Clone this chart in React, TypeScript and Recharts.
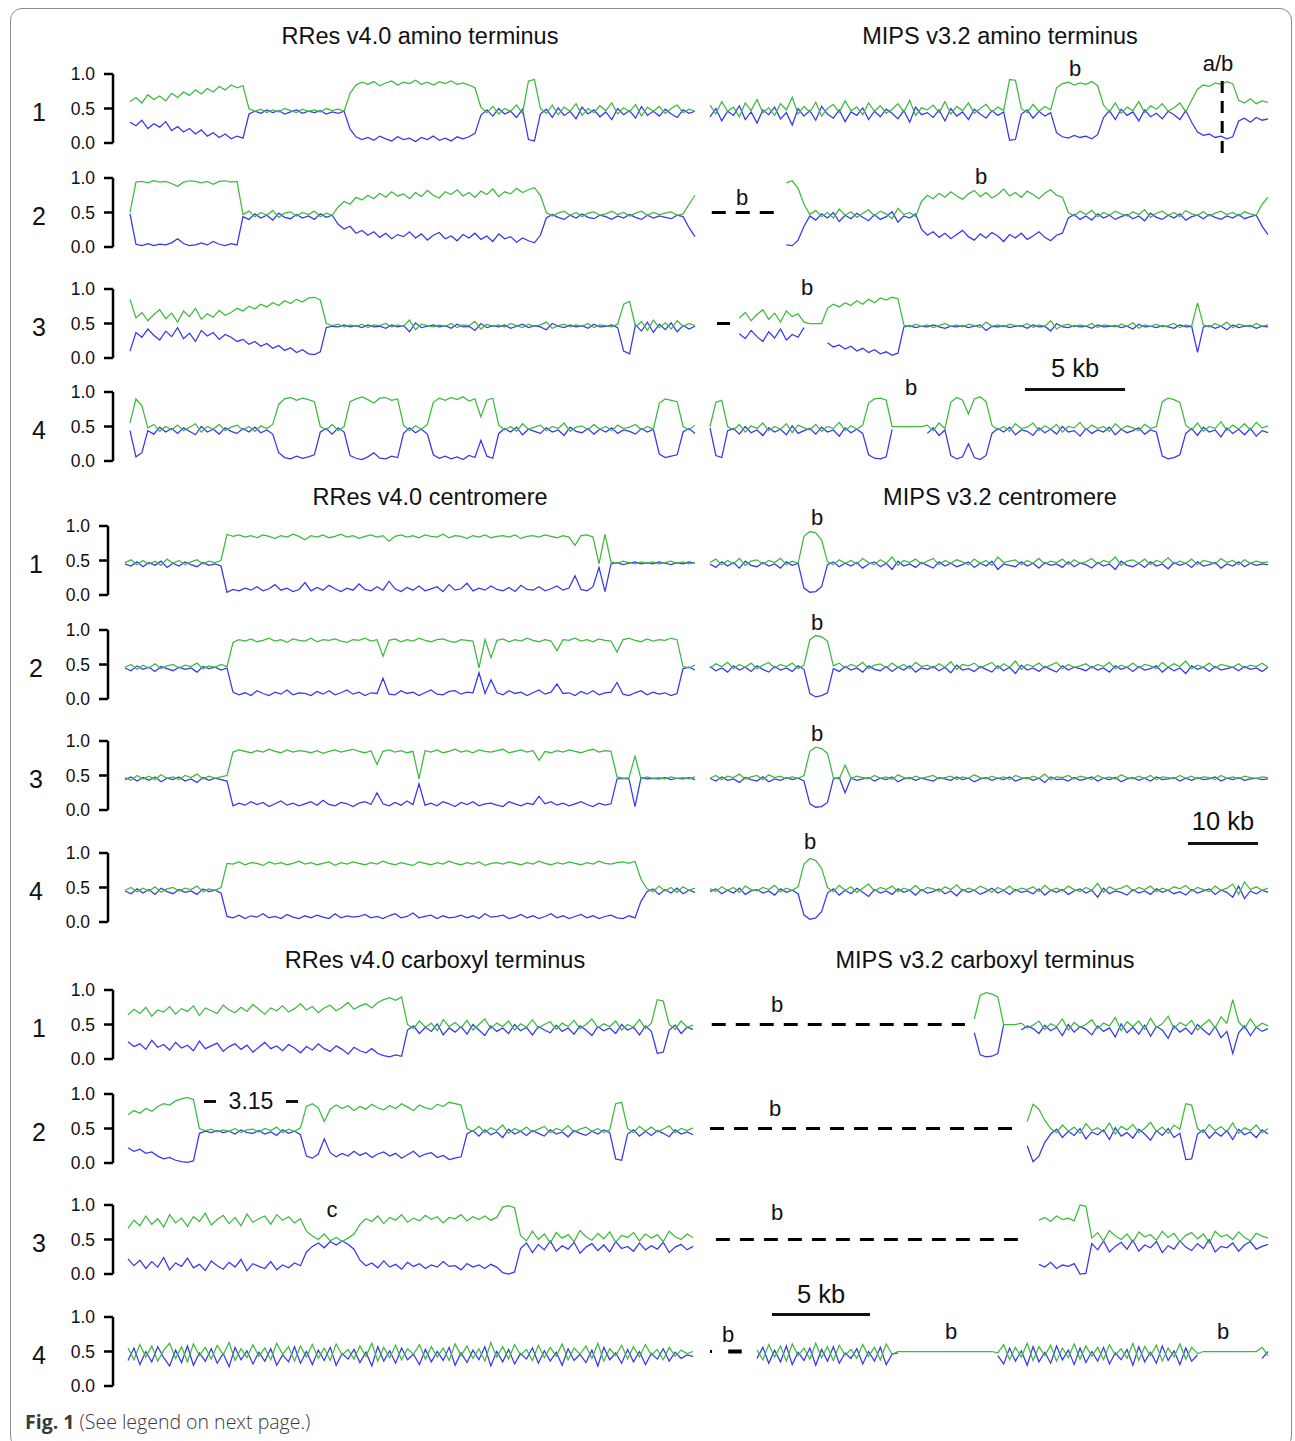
import { LineChart, Line, XAxis, YAxis, ReferenceLine } from "recharts";

const N = null;

// allele ratios (percent of reads) along each track, green / blue trace
// amino terminus, RRes v4.0
const amL1g = [60, 66, 58, 70, 63, 68, 61, 72, 66, 74, 69, 77, 71, 79, 74, 82, 77, 84, 80, 83, 50, 46, 49, 44, 48, 45, 50, 47, 44, 49, 46, 48, 45, 50, 47, 49, 46, 72, 84, 88, 85, 89, 83, 87, 90, 84, 88, 86, 91, 85, 88, 84, 89, 86, 90, 85, 87, 84, 80, 52, 44, 53, 42, 50, 46, 55, 43, 90, 92, 50, 43, 55, 41, 52, 46, 57, 40, 50, 44, 54, 47, 58, 42, 51, 45, 56, 39, 52, 46, 53, 43, 50, 55, 44, 49, 46];
const amL1b = [30, 25, 33, 21, 28, 23, 31, 18, 24, 16, 21, 13, 19, 10, 15, 8, 13, 6, 10, 7, 42, 46, 43, 48, 44, 47, 42, 45, 48, 43, 46, 44, 47, 42, 45, 43, 46, 20, 9, 5, 8, 4, 10, 6, 3, 9, 5, 7, 2, 8, 5, 10, 4, 7, 3, 9, 6, 9, 14, 40, 48, 39, 50, 42, 46, 37, 49, 5, 3, 42, 49, 37, 51, 40, 46, 35, 52, 42, 48, 38, 45, 34, 50, 41, 47, 36, 53, 40, 46, 39, 49, 42, 37, 48, 43, 46];
const amL2g = [50, 94, 95, 93, 96, 94, 95, 92, 88, 94, 96, 95, 93, 95, 91, 95, 96, 94, 95, 47, 52, 44, 50, 46, 53, 43, 49, 51, 45, 50, 47, 52, 44, 49, 46, 58, 66, 62, 72, 68, 75, 70, 78, 72, 80, 74, 77, 70, 79, 73, 82, 75, 71, 80, 76, 83, 74, 79, 72, 81, 76, 84, 73, 80, 77, 85, 79, 83, 86, 75, 50, 45, 49, 52, 46, 50, 44, 49, 51, 46, 48, 52, 47, 50, 45, 49, 52, 46, 50, 47, 49, 51, 46, 48, 62, 75];
const amL2b = [48, 4, 2, 5, 2, 4, 3, 6, 12, 5, 2, 3, 6, 3, 8, 4, 2, 5, 3, 44, 40, 48, 42, 46, 39, 49, 43, 41, 47, 42, 45, 40, 48, 43, 46, 33, 26, 30, 20, 24, 17, 22, 14, 20, 12, 18, 15, 22, 13, 19, 10, 17, 21, 12, 16, 9, 18, 13, 20, 11, 16, 8, 19, 12, 15, 7, 13, 9, 6, 17, 42, 47, 43, 40, 46, 42, 48, 43, 41, 46, 44, 40, 45, 42, 47, 43, 40, 46, 42, 45, 43, 41, 46, 44, 28, 15];
const amL3g = [85, 58, 66, 54, 63, 70, 57, 65, 52, 68, 60, 72, 56, 64, 59, 69, 62, 66, 72, 68, 75, 71, 78, 74, 80, 76, 83, 79, 85, 81, 87, 88, 84, 50, 47, 49, 45, 48, 46, 49, 44, 48, 47, 50, 45, 48, 46, 55, 41, 49, 47, 45, 48, 46, 50, 44, 48, 47, 53, 42, 49, 46, 48, 45, 50, 47, 44, 49, 46, 48, 52, 43, 47, 49, 45, 48, 46, 50, 44, 48, 47, 45, 49, 78, 82, 45, 53, 40, 55, 44, 51, 42, 54, 46, 50, 47];
const amL3b = [10, 37, 30, 42, 33, 26, 39, 31, 44, 28, 36, 24, 40, 32, 37, 27, 34, 30, 24, 27, 20, 24, 17, 21, 14, 18, 11, 15, 8, 12, 6, 5, 9, 44, 46, 45, 48, 45, 47, 44, 48, 45, 46, 43, 48, 45, 47, 38, 51, 44, 46, 48, 45, 47, 43, 49, 45, 46, 40, 50, 44, 47, 45, 48, 43, 46, 49, 44, 47, 45, 41, 50, 46, 44, 48, 45, 47, 43, 49, 45, 46, 48, 44, 10, 6, 48, 39, 52, 37, 49, 41, 51, 38, 47, 42, 46];
const amL4g = [55, 90, 80, 48, 53, 43, 50, 45, 52, 44, 49, 54, 42, 50, 46, 53, 44, 49, 52, 45, 50, 43, 51, 47, 53, 82, 90, 92, 88, 91, 89, 86, 50, 45, 53, 44, 50, 86, 90, 93, 89, 84, 91, 92, 88, 90, 52, 44, 51, 46, 53, 85, 91, 88, 92, 89, 93, 87, 90, 64, 88, 91, 52, 45, 50, 43, 54, 46, 49, 52, 44, 50, 47, 55, 43, 49, 51, 45, 53, 46, 50, 44, 52, 47, 49, 53, 45, 50, 46, 84, 90, 88, 86, 50, 45, 52];
const amL4b = [44, 6, 12, 44, 39, 49, 42, 47, 40, 48, 43, 38, 50, 42, 46, 39, 48, 43, 40, 47, 42, 49, 41, 45, 39, 12, 5, 3, 7, 4, 6, 9, 42, 47, 39, 48, 42, 8, 4, 2, 6, 12, 4, 3, 7, 5, 40, 48, 41, 46, 39, 9, 4, 7, 3, 6, 2, 8, 5, 30, 7, 4, 40, 47, 42, 49, 38, 46, 43, 40, 48, 42, 45, 37, 49, 43, 41, 47, 39, 46, 42, 48, 40, 45, 43, 39, 47, 42, 46, 10, 5, 7, 9, 42, 47, 40];

// amino terminus, MIPS v3.2
const amR1g = [55, 42, 60, 46, 52, 38, 58, 47, 63, 44, 51, 40, 57, 48, 66, 42, 53, 45, 59, 39, 50, 56, 44, 61, 47, 52, 41, 58, 46, 54, 43, 49, 57, 45, 62, 40, 51, 48, 55, 44, 60, 42, 53, 47, 58, 43, 50, 56, 45, 52, 47, 92, 91, 50, 44, 56, 46, 53, 48, 80, 86, 88, 84, 87, 85, 89, 83, 55, 45, 58, 43, 52, 47, 60, 44, 54, 49, 57, 46, 51, 58, 45, 62, 78, 84, 82, 87, 85, 89, 86, 62, 58, 64, 57, 61, 59];
const amR1b = [38, 50, 32, 46, 40, 54, 34, 45, 29, 48, 41, 52, 35, 44, 26, 50, 39, 47, 33, 53, 42, 36, 48, 31, 45, 40, 51, 34, 46, 38, 49, 43, 35, 47, 30, 52, 41, 44, 37, 48, 32, 50, 39, 45, 34, 49, 42, 36, 47, 40, 45, 4, 5, 42, 48, 36, 46, 39, 44, 15, 9, 7, 11, 8, 10, 6, 12, 37, 47, 34, 49, 40, 45, 32, 48, 38, 43, 35, 46, 41, 34, 47, 30, 16, 11, 13, 8, 10, 6, 9, 32, 36, 30, 37, 33, 35];
const amR2g = [N, N, N, N, N, N, N, N, N, N, N, N, N, 93, 96, 85, 62, 47, 53, 44, 50, 42, 55, 46, 51, 43, 49, 54, 45, 52, 48, 41, 56, 47, 50, 44, 66, 75, 70, 78, 72, 80, 74, 69, 77, 82, 73, 79, 71, 76, 84, 74, 79, 72, 81, 76, 70, 78, 83, 75, 72, 50, 45, 52, 47, 53, 44, 50, 46, 52, 48, 45, 51, 47, 54, 43, 49, 52, 46, 50, 44, 53, 48, 46, 51, 45, 49, 52, 47, 50, 45, 51, 48, 46, 62, 72];
const amR2b = [N, N, N, N, N, N, N, N, N, N, N, N, N, 3, 2, 10, 30, 45, 39, 48, 42, 50, 37, 46, 41, 49, 43, 38, 47, 40, 44, 51, 36, 45, 42, 48, 26, 17, 22, 14, 20, 12, 18, 24, 15, 10, 19, 13, 21, 16, 8, 18, 13, 20, 11, 16, 22, 14, 9, 17, 20, 42, 47, 40, 45, 39, 48, 42, 46, 40, 44, 47, 41, 45, 38, 49, 43, 40, 46, 42, 48, 39, 44, 46, 41, 47, 43, 40, 45, 42, 47, 41, 44, 46, 30, 18];
const amR3g = [N, N, N, N, N, 58, 66, 54, 63, 70, 56, 65, 52, 68, 60, 64, 52, 50, 50, 50, 72, 78, 74, 80, 76, 83, 78, 85, 80, 87, 84, 88, 86, 48, 45, 49, 46, 48, 44, 47, 50, 46, 48, 45, 49, 47, 44, 52, 46, 48, 45, 49, 47, 46, 50, 44, 48, 46, 54, 42, 47, 49, 45, 48, 46, 50, 44, 48, 47, 45, 49, 46, 51, 43, 48, 46, 49, 45, 47, 50, 44, 48, 46, 80, 48, 45, 50, 46, 52, 44, 49, 47, 45, 50, 46, 48];
const amR3b = [N, N, N, N, N, 35, 28, 40, 31, 24, 38, 29, 42, 26, 34, 30, 44, N, N, N, 22, 16, 19, 13, 17, 10, 14, 8, 12, 6, 9, 4, 7, 45, 47, 44, 46, 45, 48, 45, 43, 46, 45, 47, 44, 46, 48, 40, 46, 45, 47, 44, 46, 47, 43, 48, 45, 46, 39, 50, 45, 44, 47, 45, 46, 43, 48, 45, 46, 47, 44, 46, 42, 49, 45, 46, 44, 47, 45, 43, 48, 45, 46, 8, 45, 47, 43, 46, 41, 48, 44, 46, 47, 43, 46, 45];
const amR4g = [50, 85, 88, 50, 45, 53, 42, 51, 47, 55, 44, 50, 46, 54, 41, 52, 48, 45, 53, 43, 50, 47, 56, 44, 51, 46, 52, 84, 90, 91, 88, 50, 50, 50, 50, 50, 50, 52, 44, 55, 47, 85, 92, 88, 68, 90, 93, 86, 52, 45, 50, 43, 54, 47, 49, 55, 44, 51, 46, 53, 42, 50, 48, 56, 45, 52, 47, 50, 43, 54, 46, 51, 48, 44, 53, 47, 50, 86, 91, 89, 85, 52, 45, 55, 43, 50, 47, 57, 44, 52, 46, 54, 45, 56, 48, 51];
const amR4b = [48, 8, 5, 44, 47, 39, 50, 41, 45, 37, 48, 42, 46, 38, 51, 40, 44, 47, 39, 49, 42, 45, 36, 48, 41, 46, 40, 9, 4, 3, 6, 46, N, N, N, N, N, 40, 48, 37, 45, 8, 3, 6, 25, 5, 2, 8, 40, 47, 42, 49, 38, 45, 43, 37, 48, 41, 46, 39, 50, 42, 44, 36, 47, 40, 45, 42, 49, 38, 46, 41, 44, 48, 39, 45, 42, 7, 3, 5, 9, 40, 47, 37, 49, 42, 45, 35, 48, 40, 46, 38, 47, 36, 44, 41];

// centromere, RRes v4.0
const ceL1g = [47, 51, 44, 50, 45, 49, 43, 52, 46, 50, 44, 48, 51, 45, 49, 47, 50, 88, 85, 87, 84, 86, 83, 87, 85, 82, 86, 84, 88, 85, 80, 86, 84, 87, 83, 85, 88, 84, 86, 82, 85, 87, 84, 86, 78, 85, 87, 84, 86, 83, 87, 85, 84, 88, 83, 86, 85, 82, 86, 84, 87, 83, 85, 86, 84, 87, 82, 85, 86, 84, 87, 85, 83, 86, 84, 72, 86, 87, 84, 45, 88, 48, 46, 49, 47, 45, 48, 46, 48, 45, 47, 49, 46, 48, 45, 47];
const ceL1b = [45, 42, 48, 41, 47, 43, 49, 40, 46, 42, 48, 44, 41, 47, 43, 45, 42, 4, 8, 6, 10, 7, 12, 6, 9, 15, 7, 10, 5, 8, 18, 6, 11, 7, 14, 9, 5, 10, 7, 16, 8, 6, 12, 7, 20, 9, 5, 11, 7, 13, 6, 9, 12, 5, 15, 7, 9, 17, 6, 10, 7, 13, 8, 6, 11, 5, 14, 8, 7, 12, 6, 9, 13, 7, 10, 28, 8, 6, 12, 40, 5, 45, 47, 44, 46, 48, 45, 47, 45, 48, 46, 44, 47, 45, 48, 46];
const ceL2g = [46, 50, 43, 49, 45, 51, 44, 48, 50, 45, 49, 47, 52, 44, 48, 46, 50, 47, 82, 86, 84, 87, 83, 85, 88, 84, 86, 82, 87, 85, 84, 88, 83, 86, 85, 87, 84, 82, 86, 85, 88, 84, 86, 62, 85, 87, 83, 86, 84, 88, 85, 83, 86, 87, 84, 82, 86, 85, 84, 45, 86, 60, 85, 87, 83, 86, 84, 88, 85, 83, 86, 84, 70, 86, 85, 88, 84, 86, 83, 87, 85, 84, 68, 86, 88, 85, 83, 87, 84, 86, 85, 88, 86, 47, 45, 49];
const ceL2b = [45, 41, 48, 43, 46, 40, 47, 44, 41, 46, 43, 45, 39, 47, 44, 46, 42, 45, 10, 6, 9, 5, 12, 8, 5, 10, 7, 13, 6, 9, 8, 5, 11, 7, 12, 6, 9, 13, 7, 10, 5, 9, 8, 30, 7, 6, 12, 8, 10, 5, 9, 13, 7, 6, 11, 12, 7, 10, 9, 38, 8, 28, 9, 6, 12, 8, 10, 5, 9, 13, 7, 10, 22, 8, 9, 5, 11, 7, 12, 6, 9, 10, 24, 7, 5, 9, 12, 6, 10, 7, 9, 5, 8, 44, 46, 42];
const ceL3g = [47, 43, 50, 45, 49, 44, 51, 46, 48, 44, 50, 47, 52, 45, 49, 46, 48, 50, 84, 87, 85, 83, 86, 84, 88, 85, 83, 87, 84, 86, 85, 83, 86, 82, 85, 87, 84, 86, 88, 85, 83, 86, 66, 85, 87, 84, 86, 83, 85, 45, 86, 84, 87, 83, 85, 88, 84, 86, 83, 87, 85, 84, 86, 88, 83, 85, 87, 84, 86, 72, 85, 83, 86, 84, 87, 85, 83, 86, 88, 84, 86, 85, 48, 46, 47, 78, 45, 48, 46, 47, 45, 48, 46, 47, 45, 48];
const ceL3b = [44, 48, 42, 47, 43, 48, 41, 46, 44, 48, 42, 45, 40, 47, 43, 46, 44, 42, 6, 10, 7, 12, 8, 11, 5, 9, 13, 7, 10, 6, 9, 12, 7, 14, 8, 6, 11, 9, 5, 10, 12, 8, 25, 9, 6, 11, 7, 13, 8, 38, 7, 10, 6, 12, 9, 5, 11, 8, 12, 6, 9, 10, 7, 5, 12, 9, 6, 10, 8, 20, 9, 12, 7, 10, 6, 9, 12, 8, 5, 10, 7, 9, 45, 46, 45, 5, 47, 45, 46, 45, 47, 44, 46, 45, 47, 44];
const ceL4g = [46, 50, 44, 49, 45, 51, 43, 48, 50, 45, 49, 47, 52, 44, 48, 46, 50, 85, 84, 87, 83, 86, 85, 82, 87, 84, 86, 83, 85, 88, 84, 86, 83, 85, 87, 82, 86, 84, 87, 85, 83, 86, 84, 88, 85, 83, 86, 84, 82, 87, 85, 83, 86, 84, 88, 85, 83, 86, 84, 87, 82, 85, 86, 84, 87, 85, 83, 86, 84, 88, 85, 83, 86, 84, 87, 85, 83, 86, 84, 88, 85, 84, 86, 87, 85, 88, 62, 48, 44, 52, 45, 50, 43, 51, 46, 49];
const ceL4b = [45, 41, 48, 42, 47, 40, 49, 44, 41, 47, 43, 45, 40, 48, 44, 46, 42, 8, 6, 10, 5, 9, 7, 12, 6, 8, 5, 11, 7, 5, 9, 6, 10, 7, 5, 12, 6, 9, 7, 8, 11, 6, 8, 5, 9, 12, 6, 8, 13, 6, 8, 10, 5, 9, 6, 7, 10, 6, 9, 5, 12, 7, 8, 10, 5, 7, 11, 6, 9, 5, 8, 12, 6, 9, 5, 8, 11, 6, 9, 5, 8, 10, 6, 5, 9, 6, 30, 44, 48, 40, 47, 42, 49, 41, 46, 43];

// centromere, MIPS v3.2
const ceR1g = [47, 52, 44, 50, 45, 53, 43, 49, 51, 45, 50, 47, 53, 44, 49, 46, 85, 92, 90, 80, 48, 44, 51, 46, 50, 45, 53, 47, 44, 51, 46, 55, 43, 50, 47, 52, 45, 49, 53, 44, 50, 46, 51, 48, 44, 52, 46, 50, 43, 55, 47, 49, 51, 44, 50, 46, 53, 45, 49, 47, 52, 44, 51, 46, 48, 53, 45, 50, 47, 55, 43, 49, 51, 46, 52, 44, 50, 47, 54, 45, 49, 46, 52, 44, 50, 48, 45, 53, 47, 50, 44, 51, 46, 49, 47, 48];
const ceR1b = [45, 40, 48, 42, 47, 39, 49, 43, 41, 47, 42, 45, 39, 48, 43, 46, 10, 4, 5, 12, 44, 48, 41, 46, 42, 47, 39, 45, 48, 41, 46, 37, 49, 42, 45, 40, 47, 43, 39, 48, 42, 46, 41, 44, 48, 40, 46, 42, 49, 37, 45, 43, 41, 48, 42, 46, 39, 47, 43, 45, 40, 48, 41, 46, 44, 39, 47, 42, 45, 37, 49, 43, 41, 46, 40, 48, 42, 45, 38, 47, 43, 46, 40, 48, 42, 44, 47, 39, 45, 42, 48, 41, 46, 43, 45, 44];
const ceR2g = [45, 51, 47, 53, 44, 50, 46, 52, 44, 49, 53, 45, 50, 47, 52, 44, 49, 86, 92, 90, 84, 48, 52, 45, 50, 47, 53, 44, 49, 51, 45, 52, 46, 50, 44, 53, 47, 49, 45, 51, 46, 54, 43, 50, 48, 52, 45, 49, 53, 44, 51, 46, 55, 43, 50, 47, 52, 45, 49, 53, 44, 50, 46, 48, 51, 45, 50, 47, 53, 44, 49, 46, 52, 45, 50, 48, 44, 53, 46, 51, 47, 55, 44, 49, 46, 52, 45, 50, 48, 46, 51, 45, 49, 47, 52, 46];
const ceR2b = [47, 41, 45, 39, 48, 42, 46, 40, 48, 43, 39, 47, 42, 45, 40, 48, 43, 8, 3, 5, 9, 44, 40, 47, 42, 45, 39, 48, 43, 41, 47, 40, 46, 42, 48, 39, 45, 43, 47, 41, 46, 38, 49, 42, 44, 40, 47, 43, 39, 48, 41, 46, 37, 49, 42, 45, 40, 47, 43, 39, 48, 42, 46, 44, 41, 47, 42, 45, 39, 48, 43, 46, 40, 47, 42, 44, 48, 39, 46, 41, 45, 37, 48, 43, 46, 40, 47, 42, 44, 46, 41, 47, 43, 45, 40, 46];
const ceR3g = [46, 50, 44, 49, 47, 52, 45, 48, 50, 44, 51, 47, 49, 45, 48, 46, 50, 85, 91, 89, 82, 47, 45, 65, 46, 49, 47, 45, 50, 46, 48, 44, 51, 47, 45, 49, 46, 48, 50, 45, 47, 49, 44, 48, 46, 51, 47, 45, 49, 46, 48, 44, 50, 47, 45, 49, 46, 52, 44, 48, 47, 50, 45, 49, 47, 44, 50, 46, 48, 45, 51, 47, 45, 49, 46, 50, 44, 48, 47, 45, 50, 46, 49, 45, 48, 47, 44, 50, 46, 48, 45, 49, 47, 46, 48, 47];
const ceR3b = [46, 42, 48, 43, 45, 40, 47, 44, 42, 48, 41, 45, 43, 47, 44, 46, 42, 9, 4, 5, 11, 45, 47, 25, 46, 43, 45, 47, 42, 46, 44, 48, 41, 45, 47, 43, 46, 44, 42, 47, 45, 43, 48, 44, 46, 41, 45, 47, 43, 46, 44, 48, 42, 45, 47, 43, 46, 40, 48, 44, 45, 42, 47, 43, 45, 48, 42, 46, 44, 47, 41, 45, 47, 43, 46, 42, 48, 44, 45, 47, 42, 46, 43, 47, 44, 45, 48, 42, 46, 44, 47, 43, 45, 46, 44, 45];
const ceR4g = [48, 44, 51, 46, 50, 43, 52, 47, 45, 50, 47, 53, 44, 49, 46, 51, 84, 92, 89, 78, 50, 44, 53, 46, 51, 43, 49, 55, 45, 50, 47, 52, 44, 49, 46, 53, 45, 50, 48, 44, 51, 47, 54, 45, 49, 46, 52, 48, 43, 50, 46, 52, 45, 49, 47, 51, 44, 53, 46, 49, 45, 52, 47, 44, 50, 46, 56, 43, 51, 47, 49, 53, 45, 50, 47, 52, 44, 49, 46, 51, 48, 53, 45, 50, 47, 44, 52, 46, 49, 55, 40, 58, 47, 51, 46, 49];
const ceR4b = [44, 48, 41, 46, 42, 49, 40, 45, 47, 42, 45, 39, 48, 43, 46, 41, 10, 4, 6, 15, 42, 48, 39, 46, 41, 49, 43, 37, 47, 42, 45, 40, 48, 43, 46, 39, 47, 42, 44, 48, 41, 45, 38, 47, 43, 46, 40, 44, 49, 42, 46, 40, 47, 43, 45, 41, 48, 39, 46, 43, 47, 40, 45, 48, 42, 46, 36, 49, 41, 45, 43, 39, 47, 42, 45, 40, 48, 43, 46, 41, 44, 39, 47, 42, 45, 48, 40, 46, 43, 36, 52, 34, 45, 41, 46, 43];

// carboxyl terminus, RRes v4.0
const caL1g = [64, 72, 66, 75, 62, 71, 68, 76, 65, 73, 69, 77, 63, 74, 70, 66, 78, 71, 67, 75, 69, 79, 72, 65, 74, 70, 77, 68, 73, 80, 71, 76, 67, 74, 78, 70, 75, 82, 72, 77, 80, 74, 82, 86, 89, 85, 90, 50, 44, 55, 46, 52, 41, 57, 47, 53, 45, 56, 42, 50, 58, 44, 52, 47, 55, 42, 51, 46, 57, 45, 50, 54, 43, 52, 47, 56, 44, 50, 58, 45, 51, 47, 55, 42, 50, 46, 57, 44, 52, 86, 84, 50, 43, 55, 46, 49];
const caL1b = [25, 18, 22, 14, 27, 17, 21, 13, 24, 16, 20, 12, 26, 15, 19, 23, 11, 18, 22, 14, 20, 10, 17, 24, 15, 19, 12, 21, 16, 9, 18, 13, 22, 15, 11, 19, 14, 7, 17, 12, 9, 15, 8, 5, 3, 6, 4, 42, 48, 37, 46, 40, 51, 35, 45, 39, 47, 36, 50, 42, 34, 48, 40, 45, 37, 50, 41, 46, 35, 47, 42, 38, 49, 40, 45, 36, 48, 42, 34, 47, 41, 45, 37, 50, 42, 46, 35, 48, 40, 8, 10, 42, 49, 37, 46, 43];
const caL2g = [70, 76, 72, 79, 75, 82, 86, 84, 90, 93, 95, 92, 50, 47, 49, 45, 48, 46, 50, 44, 48, 49, 45, 50, 47, 52, 44, 49, 46, 51, 82, 86, 80, 60, 78, 84, 79, 83, 76, 82, 78, 85, 80, 77, 83, 79, 86, 81, 76, 84, 80, 78, 85, 82, 88, 86, 84, 50, 46, 53, 44, 51, 47, 55, 43, 50, 46, 52, 45, 49, 53, 44, 50, 47, 54, 45, 49, 52, 46, 50, 44, 48, 86, 88, 50, 44, 53, 46, 52, 45, 49, 54, 44, 50, 47, 51];
const caL2b = [22, 17, 20, 14, 16, 10, 6, 8, 4, 2, 1, 3, 43, 46, 44, 47, 44, 46, 42, 48, 44, 43, 47, 42, 45, 40, 48, 43, 46, 41, 10, 7, 13, 35, 15, 9, 14, 10, 17, 11, 15, 8, 13, 16, 10, 14, 7, 12, 17, 9, 13, 15, 8, 11, 5, 7, 9, 42, 47, 39, 48, 41, 45, 37, 49, 42, 46, 40, 47, 43, 39, 48, 42, 45, 38, 47, 43, 40, 46, 42, 48, 44, 6, 4, 42, 48, 39, 46, 40, 47, 43, 38, 48, 42, 45, 41];
const caL3g = [66, 78, 70, 84, 72, 80, 68, 86, 74, 81, 69, 83, 76, 88, 71, 79, 85, 73, 82, 70, 87, 75, 80, 84, 72, 86, 78, 83, 74, 80, 62, 55, 50, 58, 48, 53, 47, 52, 58, 72, 80, 76, 84, 73, 82, 78, 86, 75, 81, 77, 85, 79, 83, 74, 82, 80, 86, 77, 83, 79, 84, 78, 82, 97, 99, 96, 56, 48, 62, 50, 58, 45, 60, 52, 57, 47, 63, 54, 49, 59, 51, 61, 46, 56, 53, 60, 48, 58, 52, 57, 47, 62, 54, 50, 58, 53];
const caL3b = [22, 12, 20, 8, 18, 10, 24, 6, 16, 11, 23, 9, 14, 5, 19, 12, 7, 17, 10, 21, 5, 15, 11, 8, 18, 6, 13, 9, 16, 12, 32, 40, 45, 38, 47, 42, 48, 43, 36, 20, 12, 16, 9, 19, 10, 14, 7, 17, 11, 15, 8, 13, 10, 18, 11, 12, 6, 15, 10, 13, 8, 14, 10, 2, 0, 3, 37, 45, 31, 43, 35, 48, 33, 41, 36, 46, 30, 39, 44, 34, 42, 32, 47, 37, 40, 33, 45, 35, 41, 36, 46, 31, 39, 43, 35, 40];
const caL4g = [55, 38, 60, 42, 58, 36, 52, 62, 40, 57, 35, 61, 44, 56, 39, 59, 45, 63, 37, 54, 41, 60, 43, 55, 38, 62, 46, 57, 36, 58, 42, 60, 40, 55, 37, 61, 45, 53, 39, 58, 43, 62, 36, 56, 41, 59, 38, 54, 46, 60, 39, 57, 42, 55, 37, 61, 44, 58, 40, 54, 36, 63, 42, 57, 39, 60, 45, 53, 37, 59, 41, 56, 43, 61, 38, 55, 46, 58, 40, 62, 36, 54, 44, 59, 39, 57, 42, 60, 45, 53, 38, 56, 43, 52, 47, 50];
const caL4b = [37, 55, 31, 50, 35, 57, 41, 29, 52, 34, 58, 30, 48, 36, 54, 33, 47, 28, 56, 38, 51, 32, 49, 36, 54, 30, 45, 35, 57, 33, 50, 31, 52, 37, 56, 30, 47, 39, 53, 34, 49, 29, 57, 36, 51, 33, 55, 38, 46, 31, 53, 35, 50, 37, 56, 30, 48, 34, 52, 38, 57, 29, 50, 35, 53, 32, 47, 39, 55, 33, 51, 36, 49, 30, 54, 37, 46, 34, 52, 29, 56, 38, 48, 33, 53, 35, 50, 31, 47, 39, 54, 36, 49, 40, 45, 43];

// carboxyl terminus, MIPS v3.2
const caR1g = [
  N, N, N, N, N, N, N, N, N, N, N, N, N, N, N, N, N, N, N, N, N, N, N, N, N, N, N, N, N, N, N, N, N, N, N, N, N, N, N, N,
  N, N, N, N, N, 58, 92, 96, 94, 90, 50, 50, 50, 52, 45, 49, 55, 43, 51, 47, 58, 42, 53, 46, 50, 57, 44, 52, 48, 60, 41, 54, 47, 55, 43, 59, 46, 51, 62, 44, 53, 48, 56, 42, 50, 57, 45, 61, 52, 86, 54, 44, 58, 46, 52, 48,
];
const caR1b = [
  N, N, N, N, N, N, N, N, N, N, N, N, N, N, N, N, N, N, N, N, N, N, N, N, N, N, N, N, N, N, N, N, N, N, N, N, N, N, N, N,
  N, N, N, N, N, 38, 6, 3, 4, 8, 50, N, N, 42, 48, 44, 37, 49, 41, 46, 34, 50, 39, 47, 43, 35, 48, 40, 45, 32, 51, 38, 46, 36, 49, 33, 47, 42, 30, 48, 39, 45, 36, 50, 42, 35, 47, 31, 40, 8, 38, 48, 34, 46, 40, 44,
];
const caR2g = [
  N, N, N, N, N, N, N, N, N, N, N, N, N, N, N, N, N, N, N, N, N, N, N, N, N, N, N, N, N, N, N, N, N, N, N, N, N, N, N, N, N, N, N, N, N, N, N, N,
  N, N, N, N, N, N, 60, 85, 78, 62, 50, 44, 55, 46, 52, 43, 57, 47, 51, 45, 58, 42, 53, 48, 56, 44, 50, 59, 46, 52, 43, 55, 49, 86, 84, 50, 44, 56, 47, 53, 45, 58, 43, 51, 47, 55, 44, 50,
];
const caR2b = [
  N, N, N, N, N, N, N, N, N, N, N, N, N, N, N, N, N, N, N, N, N, N, N, N, N, N, N, N, N, N, N, N, N, N, N, N, N, N, N, N, N, N, N, N, N, N, N, N,
  N, N, N, N, N, N, 25, 2, 10, 30, 42, 49, 37, 46, 40, 50, 35, 45, 41, 48, 34, 51, 39, 44, 36, 49, 42, 33, 47, 40, 50, 37, 43, 5, 6, 42, 48, 36, 45, 39, 47, 34, 49, 41, 45, 37, 48, 42,
];
const caR3g = [
  N, N, N, N, N, N, N, N, N, N, N, N, N, N, N, N, N, N, N, N, N, N, N, N, N, N, N, N, N, N, N, N, N, N, N, N, N, N, N, N, N, N, N, N, N, N, N, N, N, N, N, N, N, N, N, N,
  78, 82, 76, 84, 79, 81, 77, 100, 98, 52, 60, 48, 63, 55, 50, 58, 46, 61, 54, 57, 49, 62, 53, 59, 47, 56, 60, 51, 58, 45, 62, 54, 57, 50, 61, 53, 48, 59, 55, 52,
];
const caR3b = [
  N, N, N, N, N, N, N, N, N, N, N, N, N, N, N, N, N, N, N, N, N, N, N, N, N, N, N, N, N, N, N, N, N, N, N, N, N, N, N, N, N, N, N, N, N, N, N, N, N, N, N, N, N, N, N, N,
  14, 10, 17, 8, 13, 11, 15, 0, 1, 44, 35, 48, 32, 40, 46, 36, 49, 33, 42, 38, 47, 31, 41, 36, 48, 39, 34, 44, 37, 50, 32, 40, 38, 45, 33, 42, 47, 36, 40, 43,
];
const caR4g = [N, N, N, N, N, N, N, N, 52, 38, 60, 42, 58, 36, 61, 44, 55, 39, 62, 41, 57, 37, 59, 45, 53, 40, 60, 43, 56, 38, 61, 46, 50, 50, 50, 50, 50, 50, 50, 50, 50, 50, 50, 50, 50, 50, 50, 50, 50, 48, 60, 38, 56, 42, 62, 37, 57, 44, 59, 36, 55, 41, 61, 39, 58, 43, 56, 38, 60, 45, 54, 40, 62, 37, 57, 44, 59, 36, 55, 42, 61, 39, 56, 47, 50, 50, 50, 50, 50, 50, 50, 50, 50, 50, 56, 44];
const caR4b = [N, N, N, N, N, N, N, N, 40, 56, 33, 52, 35, 58, 31, 49, 37, 55, 30, 53, 36, 57, 33, 48, 40, 54, 32, 50, 36, 56, 31, 46, 48, N, N, N, N, N, N, N, N, N, N, N, N, N, N, N, N, 44, 32, 55, 36, 51, 30, 57, 35, 49, 33, 58, 38, 52, 31, 55, 34, 50, 36, 56, 32, 48, 38, 53, 30, 57, 35, 49, 33, 58, 37, 51, 31, 55, 36, 45, N, N, N, N, N, N, N, N, N, N, 40, 50];

const yTicks = [0, 50, 100];
const rowNames = ["1", "2", "3", "4"];
const leftTitles = ["RRes v4.0 amino terminus", "RRes v4.0 centromere", "RRes v4.0 carboxyl terminus"];
const rightTitles = ["MIPS v3.2 amino terminus", "MIPS v3.2 centromere", "MIPS v3.2 carboxyl terminus"];

const leftSeries = [
  [[amL1g, amL1b], [amL2g, amL2b], [amL3g, amL3b], [amL4g, amL4b]],
  [[ceL1g, ceL1b], [ceL2g, ceL2b], [ceL3g, ceL3b], [ceL4g, ceL4b]],
  [[caL1g, caL1b], [caL2g, caL2b], [caL3g, caL3b], [caL4g, caL4b]],
];
const rightSeries = [
  [[amR1g, amR1b], [amR2g, amR2b], [amR3g, amR3b], [amR4g, amR4b]],
  [[ceR1g, ceR1b], [ceR2g, ceR2b], [ceR3g, ceR3b], [ceR4g, ceR4b]],
  [[caR1g, caR1b], [caR2g, caR2b], [caR3g, caR3b], [caR4g, caR4b]],
];

// missing stretches (index ranges) drawn as black dashes on the 0.5 line
const gaps: Record<string, { from: number; to: number; w?: number; solid?: boolean }[]> = {
  "0-1": [{ from: 0.3, to: 12.3 }],
  "0-2": [{ from: 1.2, to: 3.4, solid: true }],
  "2-0": [{ from: 0.3, to: 43.4 }],
  "2-1": [{ from: 0, to: 53.1 }],
  "2-2": [{ from: 1.0, to: 54.1 }],
  "2-3": [{ from: 0, to: 0.35, solid: true }, { from: 3.1, to: 5.4, w: 4, solid: true }],
};
const LAST = 95;

// layout
const GREEN = "#3dba3d";
const BLUE = "#3636f4";
const FONT = "'Liberation Sans', Arial, Helvetica, sans-serif";
const PLOT_H = 69;
const MT = 12;
const MB = 24;
const rowTops = [
  [74, 178, 289, 392],
  [526, 630, 741, 853],
  [990, 1094, 1205, 1317],
];
const leftFrames = [
  { left: 60, width: 640, padL: 17, numX: 39 },
  { left: 55, width: 645, padL: 17, numX: 36 },
  { left: 60, width: 638, padL: 15, numX: 39 },
];
const titleY = [37, 498, 961];
const leftTitleX = [420, 430, 435];
const rightTitleX = [1000, 1000, 985];

const notes = [
  { t: "b", x: 1075, y: 69 },
  { t: "a/b", x: 1218, y: 64 },
  { t: "b", x: 742, y: 198 },
  { t: "b", x: 981, y: 177 },
  { t: "b", x: 807, y: 288 },
  { t: "b", x: 911, y: 388 },
  { t: "b", x: 817, y: 518 },
  { t: "b", x: 817, y: 623 },
  { t: "b", x: 817, y: 734 },
  { t: "b", x: 810, y: 842 },
  { t: "b", x: 777, y: 1005 },
  { t: "b", x: 775, y: 1109 },
  { t: "b", x: 777, y: 1213 },
  { t: "c", x: 332, y: 1210 },
  { t: "b", x: 728, y: 1335 },
  { t: "b", x: 951, y: 1332 },
  { t: "b", x: 1223, y: 1332 },
];
const scaleBars = [
  { t: "5 kb", x1: 1025, x2: 1125, y: 389, ty: 369 },
  { t: "10 kb", x1: 1188, x2: 1258, y: 843, ty: 822 },
  { t: "5 kb", x1: 772, x2: 870, y: 1314, ty: 1295 },
];

function Track({ g, b, left, top, width, padL, axis, gapKey }: any) {
  const data = g.map((v: number | null, i: number) => ({ i, g: v, b: b[i] }));
  const segs = gaps[gapKey] || [];
  return (
    <div style={{ position: "absolute", left, top: top - MT }}>
      <LineChart
        width={width}
        height={PLOT_H + MT + MB}
        data={data}
        margin={{ top: MT, bottom: MB, left: axis ? 0 : 5, right: 5 }}
      >
        <XAxis dataKey="i" type="number" domain={[0, LAST]} hide padding={{ left: padL, right: 0 }} />
        <YAxis
          domain={[0, 100]}
          ticks={yTicks}
          hide={!axis}
          width={53}
          interval={0}
          tickSize={9}
          tickMargin={9}
          axisLine={{ stroke: "#000", strokeWidth: 2.5 }}
          tickLine={{ stroke: "#000", strokeWidth: 2.5 }}
          tick={{ fill: "#111", fontSize: 17.5, fontFamily: FONT }}
          tickFormatter={(v: number) => (v / 100).toFixed(1)}
        />
        <Line dataKey="b" stroke={BLUE} strokeWidth={1.25} dot={false} isAnimationActive={false} />
        <Line dataKey="g" stroke={GREEN} strokeWidth={1.25} dot={false} isAnimationActive={false} />
        {segs.map((s, k) => (
          <ReferenceLine
            key={k}
            segment={[{ x: s.from, y: 50 }, { x: s.to, y: 50 }]}
            stroke="#000"
            strokeWidth={s.w || 3}
            strokeDasharray={s.solid ? undefined : "14 10"}
            ifOverflow="visible"
          />
        ))}
        {gapKey === "0-0" && (
          <ReferenceLine
            segment={[{ x: 87.2, y: 90 }, { x: 87.2, y: -22 }]}
            stroke="#000"
            strokeWidth={3}
            strokeDasharray="12 8"
            ifOverflow="visible"
          />
        )}
      </LineChart>
    </div>
  );
}

const centered = (x: number, y: number, size: number) => ({
  position: "absolute" as const,
  left: x,
  top: y,
  transform: "translate(-50%, -50%)",
  fontFamily: FONT,
  fontSize: size,
  color: "#111",
  whiteSpace: "nowrap" as const,
  lineHeight: 1,
});

export default function App() {
  return (
    <div style={{ position: "absolute", left: 0, top: 0, width: 1295, height: 1441, background: "#fff", overflow: "hidden" }}>
      <div
        style={{
          position: "absolute",
          left: 10,
          top: 8,
          width: 1282,
          height: 1440,
          border: "1.5px solid #8a8a8a",
          borderRadius: 12,
          boxSizing: "border-box",
        }}
      />
      {leftTitles.map((t, k) => (
        <div key={"lt" + k} style={centered(leftTitleX[k], titleY[k], 23.5)}>{t}</div>
      ))}
      {rightTitles.map((t, k) => (
        <div key={"rt" + k} style={centered(rightTitleX[k], titleY[k], 23.5)}>{t}</div>
      ))}
      {rowTops.map((tops, gi) =>
        tops.map((top, ri) => (
          <div key={`n${gi}-${ri}`} style={centered(leftFrames[gi].numX, top + 38, 25)}>
            {rowNames[ri]}
          </div>
        ))
      )}
      {rowTops.map((tops, gi) =>
        tops.map((top, ri) => (
          <Track
            key={`l${gi}-${ri}`}
            g={leftSeries[gi][ri][0]}
            b={leftSeries[gi][ri][1]}
            left={leftFrames[gi].left}
            width={leftFrames[gi].width}
            padL={leftFrames[gi].padL}
            top={top}
            axis
            gapKey=""
          />
        ))
      )}
      {rowTops.map((tops, gi) =>
        tops.map((top, ri) => (
          <Track
            key={`r${gi}-${ri}`}
            g={rightSeries[gi][ri][0]}
            b={rightSeries[gi][ri][1]}
            left={705}
            width={568}
            padL={0}
            top={top}
            axis={false}
            gapKey={`${gi}-${ri}`}
          />
        ))
      )}
      {notes.map((n, k) => (
        <div key={"note" + k} style={centered(n.x, n.y, 22)}>{n.t}</div>
      ))}
      <div style={{ position: "absolute", left: 204, top: 1100, width: 12, height: 3, background: "#111" }} />
      <div style={centered(251, 1101, 23)}>3.15</div>
      <div style={{ position: "absolute", left: 286, top: 1100, width: 12, height: 3, background: "#111" }} />
      {scaleBars.map((s, k) => (
        <div key={"sb" + k}>
          <div style={{ position: "absolute", left: s.x1, top: s.y - 1.5, width: s.x2 - s.x1, height: 3, background: "#111" }} />
          <div style={centered((s.x1 + s.x2) / 2, s.ty, 25.5)}>{s.t}</div>
        </div>
      ))}
      <div
        style={{
          position: "absolute",
          left: 25,
          top: 1408,
          fontFamily: "'Open Sans', 'Noto Sans', sans-serif",
          fontSize: 19.5,
          color: "#3a3a3a",
          whiteSpace: "nowrap",
        }}
      >
        <b>Fig. 1</b> <span style={{ fontWeight: 300 }}>(See legend on next page.)</span>
      </div>
    </div>
  );
}
